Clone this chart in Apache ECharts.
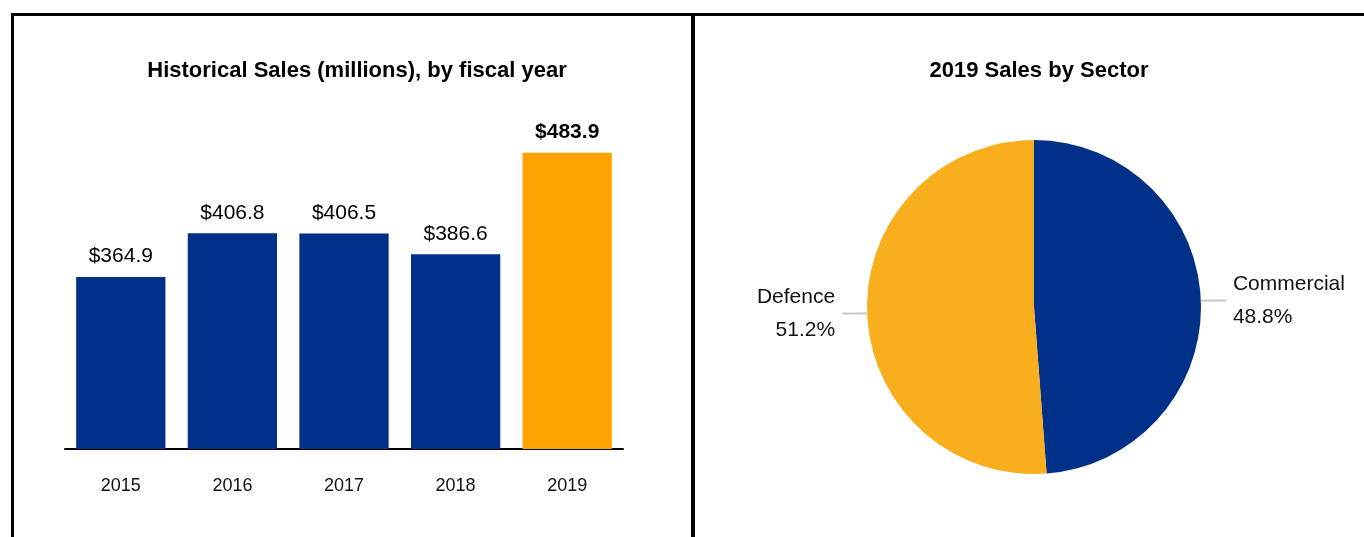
<!DOCTYPE html>
<html>
<head>
<meta charset="utf-8">
<script src="https://cdn.jsdelivr.net/npm/echarts@6/dist/echarts.min.js"></script>
<style>
html,body{margin:0;padding:0;background:#fff;}
#chart{width:1364px;height:537px;}
</style>
</head>
<body>
<div id="chart"></div>
<script>
var years = ['2015', '2016', '2017', '2018', '2019'];
var sales = [364.9, 406.8, 406.5, 386.6, 483.9];
var sectors = ['Commercial', 'Defence'];
var sectorShare = [48.8, 51.2];

var NAVY = '#003087';
var ORANGE_BAR = '#FFA300';
var ORANGE_PIE = '#F9AE1D';
var SANS = '"Liberation Sans", Arial, sans-serif';

var barData = sales.map(function (v, i) {
  var last = i === sales.length - 1;
  return {
    value: v,
    itemStyle: { color: last ? ORANGE_BAR : NAVY },
    label: { fontWeight: last ? 'bold' : 'normal' }
  };
});

var pieData = sectors.map(function (n, i) {
  return { name: n, value: sectorShare[i], itemStyle: { color: i === 0 ? NAVY : ORANGE_PIE } };
});

var chart = echarts.init(document.getElementById('chart'), null, { renderer: 'canvas' });
chart.setOption({
  animation: false,
  backgroundColor: '#fff',
  title: [
    { text: 'Historical Sales (millions), by fiscal year', left: 352, top: 55, textAlign: 'center',
      textStyle: { fontFamily: SANS, fontSize: 22, fontWeight: 'bold', color: '#000' } },
    { text: '2019 Sales by Sector', left: 1034, top: 55, textAlign: 'center',
      textStyle: { fontFamily: SANS, fontSize: 22, fontWeight: 'bold', color: '#000' } }
  ],
  grid: { left: 65, right: 741, top: 136, bottom: 88, containLabel: false },
  xAxis: {
    type: 'category', data: years,
    axisLine: { lineStyle: { color: '#000', width: 2 } },
    axisTick: { show: false },
    axisLabel: { fontFamily: SANS, fontSize: 18, color: '#111', margin: 28 }
  },
  yAxis: { type: 'value', min: 200, max: 500, show: false, splitLine: { show: false } },
  series: [
    {
      type: 'bar', data: barData, barCategoryGap: '20%',
      label: { show: true, position: 'top', distance: 10, fontFamily: SANS, fontSize: 21, color: '#000',
        formatter: function (p) { return '$' + p.value.toFixed(1); } }
    },
    {
      type: 'pie', center: [1034, 307], radius: 167, startAngle: 90, clockwise: true,
      data: pieData,
      label: {
        show: true, fontFamily: SANS, fontSize: 21, color: '#111', lineHeight: 33,
        distanceToLabelLine: 7, overflow: 'none',
        formatter: function (p) { return p.name + '\n' + p.value.toFixed(1) + '%'; }
      },
      labelLine: { show: true, length: 8, length2: 17, lineStyle: { color: '#c8c8c8', width: 2 } },
      emphasis: { disabled: true }
    }
  ],
  graphic: [
    { type: 'rect', shape: { x: 11, y: 13, width: 1353, height: 3 }, style: { fill: '#000' }, silent: true },
    { type: 'rect', shape: { x: 11, y: 13, width: 3, height: 524 }, style: { fill: '#000' }, silent: true },
    { type: 'rect', shape: { x: 691, y: 13, width: 4, height: 524 }, style: { fill: '#000' }, silent: true }
  ]
});
</script>
</body>
</html>
